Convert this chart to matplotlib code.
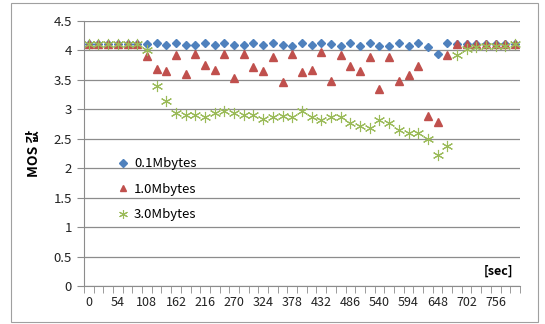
import matplotlib.pyplot as plt
from matplotlib.patches import Rectangle
import numpy as np

plt.rcParams['font.family'] = ['Noto Sans CJK KR', 'DejaVu Sans']

# time axis: one sample every 18 sec, 0..792
seconds = list(range(0, 793, 18))
tick_labels = [str(s) for s in seconds[::3]]

mos_01 = [4.1, 4.1, 4.1, 4.1, 4.1, 4.1, 4.1, 4.13, 4.09, 4.12,
          4.09, 4.09, 4.12, 4.09, 4.12, 4.09, 4.09, 4.12, 4.09, 4.12,
          4.09, 4.07, 4.13, 4.09, 4.12, 4.1, 4.08, 4.12, 4.08, 4.12,
          4.08, 4.08, 4.12, 4.08, 4.12, 4.05, 3.93, 4.12, 4.1, 4.1,
          4.1, 4.1, 4.1, 4.1, 4.1]
mos_10 = [4.1, 4.1, 4.1, 4.1, 4.1, 4.1, 3.91, 3.68, 3.65, 3.92,
          3.6, 3.94, 3.75, 3.67, 3.94, 3.53, 3.94, 3.71, 3.65, 3.88,
          3.46, 3.94, 3.63, 3.67, 3.97, 3.47, 3.92, 3.74, 3.64, 3.88,
          3.34, 3.88, 3.47, 3.58, 3.74, 2.89, 2.79, 3.92, 4.1, 4.1,
          4.1, 4.1, 4.1, 4.1, 4.1]
mos_30 = [4.1, 4.1, 4.1, 4.1, 4.1, 4.1, 4.0, 3.4, 3.14, 2.94,
          2.9, 2.9, 2.86, 2.93, 2.97, 2.93, 2.9, 2.9, 2.83, 2.86,
          2.89, 2.87, 2.97, 2.86, 2.81, 2.86, 2.86, 2.76, 2.71, 2.68,
          2.81, 2.77, 2.64, 2.6, 2.59, 2.49, 2.22, 2.38, 3.92, 4.02,
          4.05, 4.07, 4.08, 4.08, 4.1]

fig = plt.figure(figsize=(5.45, 3.24), dpi=100)
ax = fig.add_axes([0.154, 0.117, 0.8, 0.819])

x = np.arange(len(seconds))
ax.plot(x, mos_01, linestyle='none', marker='D', markersize=4.5,
        color='#4F81BD', label='0.1Mbytes')
ax.plot(x, mos_10, linestyle='none', marker='^', markersize=6,
        color='#C0504D', label='1.0Mbytes')
ax.plot(x, mos_30, linestyle='none', marker=(6, 2, 0), markersize=8,
        markeredgewidth=0.8, color='#9BBB59', markeredgecolor='#9BBB59',
        label='3.0Mbytes')

ax.set_xlim(-0.5, len(seconds) - 0.5)
ax.set_ylim(0, 4.5)

yt = np.arange(0, 4.51, 0.5)
ax.set_yticks(yt)
ax.set_yticklabels(['%g' % v for v in yt])
ax.yaxis.grid(True, color='#8c8c8c', linewidth=0.9)
ax.set_axisbelow(True)

ax.set_xticks(x[::3])
ax.set_xticklabels(tick_labels)
ax.set_xticks(np.arange(-0.5, len(seconds)), minor=True)
ax.tick_params(axis='x', which='major', length=0, pad=7, labelsize=9,
               colors='#222222')
ax.tick_params(axis='x', which='minor', length=5, color='#8c8c8c')
ax.tick_params(axis='y', length=5, color='#8c8c8c', labelsize=9.5,
               colors='#222222')
ax.tick_params(axis='y', color='#8c8c8c')

for s in ['top', 'right']:
    ax.spines[s].set_visible(False)
for s in ['left', 'bottom']:
    ax.spines[s].set_color('#8c8c8c')

ax.set_ylabel('MOS 값', fontsize=10, fontweight='bold', labelpad=9)

ax.text(0.95, 0.03, '[sec]', transform=ax.transAxes, fontsize=9,
        fontweight='bold', ha='center', va='bottom')

ax.legend(loc='upper left', bbox_to_anchor=(0.065, 0.51), frameon=False,
          fontsize=9.5, handlelength=0.7, handletextpad=0.45,
          labelspacing=0.95, markerscale=0.8, borderpad=0)

fig.patches.append(Rectangle((11 / 545, 2 / 324), 527 / 545, 319 / 324,
                             transform=fig.transFigure, fill=False,
                             edgecolor='#a0a0a0', linewidth=0.8))

plt.savefig('out.png', dpi=100)
